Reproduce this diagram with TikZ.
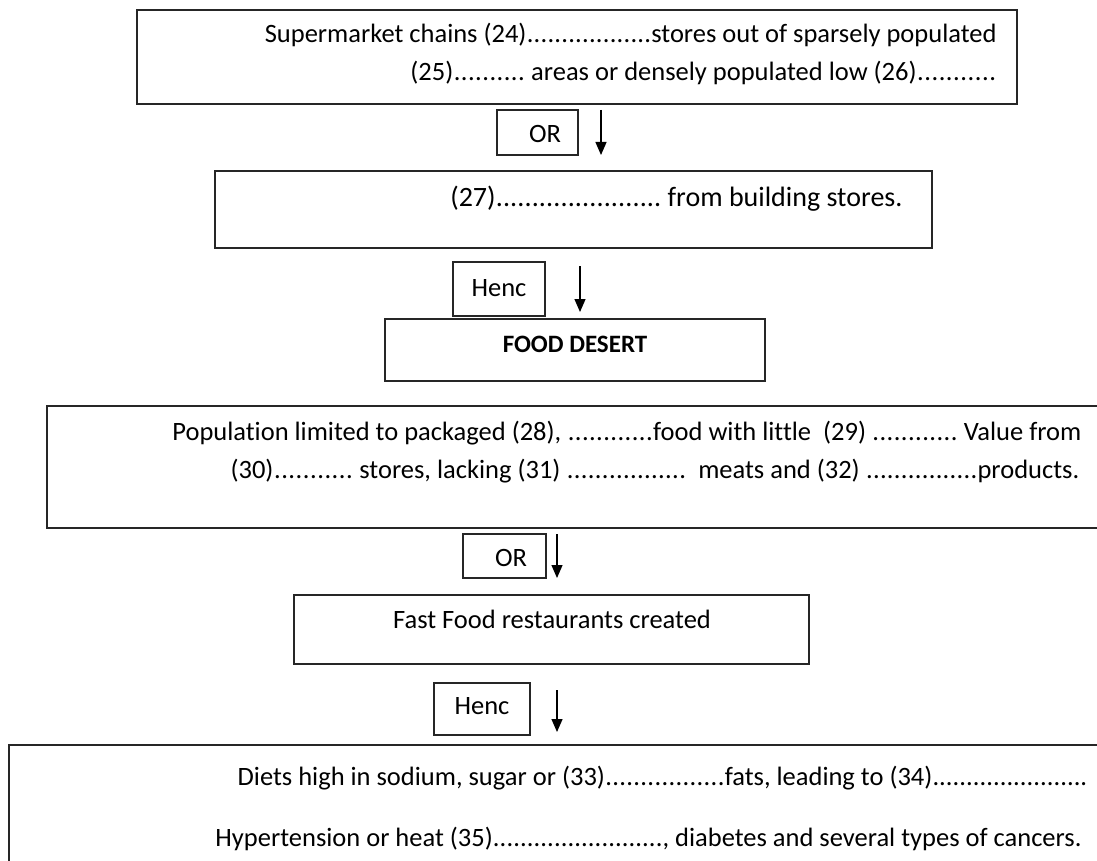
\documentclass[tikz,border=0pt]{standalone}
\usepackage{fontspec}
\setmainfont{Carlito}[Ligatures=NoCommon]
\usetikzlibrary{arrows.meta,fit}
\newcommand\dts[1]{\hbox to #1pt{\xleaders\hbox{.}\hfill}}
\tikzset{
  box/.style={draw=black!85,line width=1.6pt,inner sep=0pt},
  txt/.style={font=\fontsize{26.5}{30}\selectfont,inner sep=0pt},
  arr/.style={line width=1.3pt,-{Triangle[width=11pt,length=13pt]}}
}
\begin{document}
\begin{tikzpicture}[x=1pt,y=-1pt]
\useasboundingbox (0,0) rectangle (1097,861);
% boxes
\node[box,fit={(137,10) (1017,104)}] (b1) {};
\node[box,fit={(497,110) (578,155)}] (or1) {};
\node[box,fit={(215,171) (932,248)}] (b2) {};
\node[box,fit={(453,262) (545,316)}] (h1) {};
\node[box,fit={(385,319) (765,381)}] (b3) {};
\node[box,fit={(47,406) (1110,528)}] (b4) {};
\node[box,fit={(463,534) (546,578)}] (or2) {};
\node[box,fit={(294,595) (809,664)}] (b5) {};
\node[box,fit={(434,683) (530,735)}] (h2) {};
\node[box,fit={(9,745) (1110,875)}] (b6) {};
% arrows
\coordinate (a1s) at (601,110); \coordinate (a1e) at (601,155);
\coordinate (a2s) at (580,266); \coordinate (a2e) at (580,312);
\coordinate (a3s) at (557,534); \coordinate (a3e) at (557,578);
\coordinate (a4s) at (557,690); \coordinate (a4e) at (557,732);
\draw[arr] (a1s) -- (a1e);
\draw[arr] (a2s) -- (a2e);
\draw[arr] (a3s) -- (a3e);
\draw[arr] (a4s) -- (a4e);
% texts
\node[txt,anchor=base east] (t1a) at (997,43) {Supermarket chains (24)\dts{125}stores out of sparsely populated};
\node[txt,anchor=base east] (t1b) at (997,81) {(25)\dts{72} areas or densely populated low (26)\dts{80}};
\node[txt,anchor=base] (tor1) at (545,143) {OR};
\node[txt,anchor=base east,font=\fontsize{28}{30}\selectfont] (t2) at (903,207) {(27)\dts{166} from building stores.};
\node[txt,anchor=base] (th1) at (499,296) {Henc};
\node[txt,anchor=base,font=\fontsize{25}{30}\selectfont\bfseries] (t3) at (575,352) {FOOD DESERT};
\node[txt,anchor=base east] (t4a) at (1082,440) {Population limited to packaged (28), \dts{86}food with little\ \ (29) \dts{86} Value from};
\node[txt,anchor=base east] (t4b) at (1080,478) {(30)\dts{80} stores, lacking (31) \dts{120}\ \ meats and (32) \dts{112}products.};
\node[txt,anchor=base] (tor2) at (511,566) {OR};
\node[txt,anchor=base] (t5) at (552,628) {Fast Food restaurants created};
\node[txt,anchor=base] (th2) at (482,714) {Henc};
\node[txt,anchor=base east] (t6a) at (1088,785) {Diets high in sodium, sugar or (33)\dts{120}fats, leading to (34)\dts{155}};
\node[txt,anchor=base east] (t6b) at (1082,846) {Hypertension or heat (35)\dts{170}, diabetes and several types of cancers.};
\end{tikzpicture}
\end{document}
